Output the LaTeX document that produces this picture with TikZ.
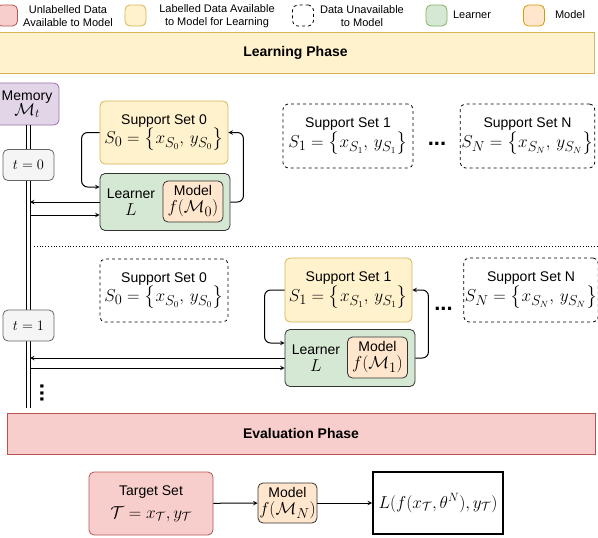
\documentclass[tikz,border=0pt]{standalone}
\usepackage{amssymb}
\usepackage{amsmath}
\usepackage[no-math]{fontspec}
\setmainfont{Liberation Sans}
\usepackage{tikz}
\usetikzlibrary{shapes.geometric, arrows, positioning}

\definecolor{unlabfill}{HTML}{F8CECC}
\definecolor{unlabline}{HTML}{B85450}
\definecolor{labfill}{HTML}{FFF2CC}
\definecolor{labline}{HTML}{D6B656}
\definecolor{lrnfill}{HTML}{D5E8D4}
\definecolor{lrnline}{HTML}{82B366}
\definecolor{mdlfill}{HTML}{FFE6CC}
\definecolor{mdlline}{HTML}{D79B00}
\definecolor{memfill}{HTML}{E1D5E7}
\definecolor{memline}{HTML}{9673A6}
\definecolor{tfill}{HTML}{F5F5F5}
\definecolor{tline}{HTML}{666666}

\newcommand{\bigmath}[1]{{\fontsize{19}{22}\selectfont$#1$}}

\begin{document}
\begin{tikzpicture}[
    x=1pt, y=-1pt,
    every node/.style={font=\fontsize{14}{17}\selectfont, inner sep=1pt, align=center}, % sans text
    box/.style={draw, rounded corners=5pt, line width=0.8pt}, % base box
    legbox/.style={box, minimum width=21pt, minimum height=21pt},
    legtext/.style={font=\fontsize{11}{13}\selectfont},
    unlab/.style={fill=unlabfill, draw=unlabline},
    lab/.style={fill=labfill, draw=labline},
    unav/.style={dashed, draw=black},
    lrn/.style={fill=lrnfill},
    mdl/.style={fill=mdlfill},
    banner/.style={draw, line width=0.8pt, font=\bfseries\fontsize{14}{17}\selectfont}, % phase bars
    setbox/.style={box, minimum width=128pt, minimum height=63pt},
    lrnbox/.style={box, lrn, draw=black!80, minimum width=130pt, minimum height=57pt},
    mdlbox/.style={box, mdl, draw=black!80, minimum width=60pt, minimum height=41pt},
    tbox/.style={box, fill=tfill, draw=tline, minimum width=51pt, minimum height=31pt, font=\fontsize{14}{16}\selectfont},
    dotsnode/.style={font=\bfseries\fontsize{22}{22}\selectfont},
    arr/.style={-stealth, line width=1pt}, % connectors
    loopc/.style={arr, rounded corners=6pt}
    ]
    \useasboundingbox (0,0) rectangle (598,538);

    % legend
    \node[legbox, unlab] (legU) at (7,15.5) {};
    \node[legtext] (legUt) at (68,16) {Unlabelled Data\\Available to Model};
    \node[legbox, lab] (legL) at (135.5,15.5) {};
    \node[legtext] (legLt) at (217,16) {Labelled Data Available\\to Model for Learning};
    \node[legbox, unav] (legD) at (303,15.5) {};
    \node[legtext] (legDt) at (362,16) {Data Unavailable\\to Model};
    \node[legbox, lrn, draw=lrnline] (legR) at (436.5,15.5) {};
    \node[legtext] (legRt) at (472,15) {Learner};
    \node[legbox, mdl, draw=mdlline] (legM) at (534,15.5) {};
    \node[legtext] (legMt) at (570,15) {Model};

    % learning phase
    \node[banner, lab, minimum width=597pt, minimum height=41pt] (learnph) at (295.5,52.5) {Learning Phase};
    \node[box, fill=memfill, draw=memline, minimum width=64pt, minimum height=42pt] (mem) at (27,104)
        {Memory\\[-2pt]{\fontsize{17}{20}\selectfont$\mathcal{M}_t$}};
    \coordinate (tlend) at (28,408);
    \draw[line width=0.8pt] ([xshift=-2pt]mem.south -| tlend) -- ([xshift=-2pt]tlend);
    \draw[line width=0.8pt] ([xshift=2pt]mem.south -| tlend) -- ([xshift=2pt]tlend);
    \coordinate (tl) at (30,0);
    \node[tbox] (t0) at (28.5,165) {$t = 0$};
    \node[tbox] (t1) at (28.5,325.5) {$t = 1$};

    % t = 0
    \node[setbox, lab] (ssA0) at (164,132.5) {Support Set 0\\ \bigmath{S_0 = \bigl\{x_{S_0},\, y_{S_0}\bigr\}}};
    \node[lrnbox] (lrn0) at (165,202) {};
    \node (lrn0lbl) at (131,202) {Learner\\ \bigmath{L}};
    \node[mdlbox] (mdl0) at (193,201.5) {Model\\ \bigmath{f(\mathcal{M}_0)}};
    \node[setbox, unav, minimum width=130pt, minimum height=64pt] (ssA1) at (348,136)
        {Support Set 1\\ \bigmath{S_1 = \bigl\{x_{S_1},\, y_{S_1}\bigr\}}};
    \node[dotsnode] (dotsA) at (437,144) {...};
    \node[setbox, unav, minimum width=129pt, minimum height=64pt] (ssAN) at (527.5,136)
        {Support Set N\\ \bigmath{S_N = \bigl\{x_{S_N},\, y_{S_N}\bigr\}}};
    \draw[loopc] (ssA0.west) -- ++(-18,0) |- ([yshift=15pt]lrn0.west);
    \draw[loopc] (lrn0.east) -- ++(13,0) |- (ssA0.east);
    \draw[arr] (lrn0.west) -- (lrn0.west -| tl);
    \draw[arr] ([yshift=-13pt]lrn0.west -| tl) -- ([yshift=-13pt]lrn0.west);

    \draw[dotted, line width=0.8pt] (34,246) -- (598,246);

    % t = 1
    \node[setbox, unav] (ssB0) at (164,290.5) {Support Set 0\\ \bigmath{S_0 = \bigl\{x_{S_0},\, y_{S_0}\bigr\}}};
    \node[setbox, lab, minimum width=127pt, minimum height=64pt] (ssB1) at (348.5,290)
        {Support Set 1\\ \bigmath{S_1 = \bigl\{x_{S_1},\, y_{S_1}\bigr\}}};
    \node[lrnbox] (lrn1) at (350,358) {};
    \node (lrn1lbl) at (316,358) {Learner\\ \bigmath{L}};
    \node[mdlbox] (mdl1) at (377.5,357.5) {Model\\ \bigmath{f(\mathcal{M}_1)}};
    \node[dotsnode] (dotsB) at (443.5,309) {...};
    \node[setbox, unav, minimum width=132pt, minimum height=64pt] (ssBN) at (531,290)
        {Support Set N\\ \bigmath{S_N = \bigl\{x_{S_N},\, y_{S_N}\bigr\}}};
    \draw[loopc] (ssB1.west) -- ++(-20,0) |- ([yshift=15pt]lrn1.west);
    \draw[loopc] (lrn1.east) -- ++(13,0) |- (ssB1.east);
    \draw[arr] (lrn1.west) -- (lrn1.west -| tl);
    \draw[arr] ([yshift=-10pt]lrn1.west -| tl) -- ([yshift=-10pt]lrn1.west);
    \node[dotsnode, rotate=90] (vdots) at (42,393) {...};

    % evaluation phase
    \node[banner, unlab, minimum width=588pt, minimum height=41pt] (evalph) at (301,433.5) {Evaluation Phase};
    \node[box, unlab, minimum width=124pt, minimum height=63pt] (tgt) at (151,503.5)
        {Target Set\\[6pt] {\fontsize{18}{21}\selectfont$\mathcal{T} = x_{\mathcal{T}}, y_{\mathcal{T}}$}};
    \node[mdlbox, minimum width=59pt, minimum height=40pt] (mdlN) at (287.5,503) {Model\\ \bigmath{f(\mathcal{M}_N)}};
    \node[draw, line width=1.8pt, minimum width=130pt, minimum height=62pt] (loss) at (438,503)
        {{\fontsize{18}{21}\selectfont$L(f(x_{\mathcal{T}}, \theta^N), y_{\mathcal{T}})$}};
    \draw[arr] (tgt) -- (mdlN);
    \draw[arr] (mdlN) -- (loss);
\end{tikzpicture}
\end{document}
